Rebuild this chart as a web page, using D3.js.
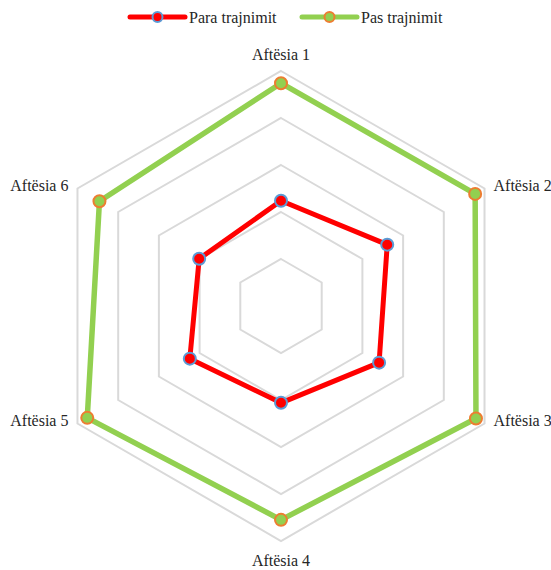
<!DOCTYPE html>
<html>
<head>
<meta charset="utf-8">
<script src="https://cdn.jsdelivr.net/npm/d3@7"></script>
<style>
  body { margin: 0; background: #fff; }
</style>
</head>
<body>
<div id="chart"></div>
<script>
// data
var skills = ["Aftësia 1", "Aftësia 2", "Aftësia 3", "Aftësia 4", "Aftësia 5", "Aftësia 6"];
var paraValues = [2.24, 2.61, 2.41, 2.06, 2.24, 2.01];
var pasValues = [4.74, 4.77, 4.79, 4.55, 4.76, 4.46];
var seriesNames = ["Para trajnimit", "Pas trajnimit"];
var gridLevels = [1, 2, 3, 4, 5];

var width = 551, height = 570;
var cx = 281, cy = 306, outer = 235;
var serif = "'Liberation Serif', 'Times New Roman', 'DejaVu Serif', serif";

var svg = d3.select("#chart").append("svg")
    .attr("width", width)
    .attr("height", height);

var r = d3.scaleLinear().domain([0, 5]).range([0, outer]);
var angle = d3.scaleLinear().domain([0, skills.length]).range([0, 2 * Math.PI]);

function pt(i, v) {
    var a = angle(i);
    return [cx + r(v) * Math.sin(a), cy - r(v) * Math.cos(a)];
}

var lineGen = d3.line().curve(d3.curveLinearClosed);

// grid hexagons
svg.append("g").selectAll("path")
    .data(gridLevels)
    .enter()
    .append("path")
    .attr("d", function (lv) {
        return lineGen(skills.map(function (s, i) { return pt(i, lv); }));
    })
    .attr("fill", "none")
    .attr("stroke", "#d9d9d9")
    .attr("stroke-width", 2);

// series
var series = [
    {name: seriesNames[0], values: paraValues, line: "#ff0000", fill: "#ff0000", ring: "#5b9bd5", w: 5},
    {name: seriesNames[1], values: pasValues, line: "#92d050", fill: "#92d050", ring: "#ed7d31", w: 5.5}
];

series.forEach(function (s) {
    var g = svg.append("g");
    g.append("path")
        .attr("d", lineGen(s.values.map(function (v, i) { return pt(i, v); })))
        .attr("fill", "none")
        .attr("stroke", s.line)
        .attr("stroke-width", s.w)
        .attr("stroke-linejoin", "round");
    g.selectAll("circle")
        .data(s.values)
        .enter()
        .append("circle")
        .attr("cx", function (v, i) { return pt(i, v)[0]; })
        .attr("cy", function (v, i) { return pt(i, v)[1]; })
        .attr("r", 6)
        .attr("fill", s.fill)
        .attr("stroke", s.ring)
        .attr("stroke-width", 2);
});

// axis labels
svg.append("g").selectAll("text")
    .data(skills)
    .enter()
    .append("text")
    .attr("x", function (d, i) {
        var p = pt(i, 5);
        if (i == 0 || i == 3) return p[0];
        return i < 3 ? p[0] + 9 : p[0] - 9;
    })
    .attr("y", function (d, i) {
        var p = pt(i, 5);
        if (i == 0) return p[1] - 17;
        if (i == 3) return p[1] + 19;
        return p[1] - 3;
    })
    .attr("dy", "0.35em")
    .attr("text-anchor", function (d, i) {
        if (i == 0 || i == 3) return "middle";
        return i < 3 ? "start" : "end";
    })
    .attr("font-family", serif)
    .attr("font-size", 16)
    .attr("fill", "#262626")
    .text(function (d) { return d; });

// legend
var legendX = [130, 302];
var legend = svg.append("g").selectAll("g")
    .data(series)
    .enter()
    .append("g")
    .attr("transform", function (d, i) { return "translate(" + legendX[i] + ",17)"; });
legend.append("line")
    .attr("x1", 0).attr("x2", 55)
    .attr("stroke", function (d) { return d.line; })
    .attr("stroke-width", 5)
    .attr("stroke-linecap", "round");
legend.append("circle")
    .attr("cx", 27.5)
    .attr("r", 5)
    .attr("fill", function (d) { return d.fill; })
    .attr("stroke", function (d) { return d.ring; })
    .attr("stroke-width", 2);
legend.append("text")
    .attr("x", 59)
    .attr("dy", "0.35em")
    .attr("font-family", serif)
    .attr("font-size", 16)
    .attr("fill", "#262626")
    .text(function (d) { return d.name; });
</script>
</body>
</html>
